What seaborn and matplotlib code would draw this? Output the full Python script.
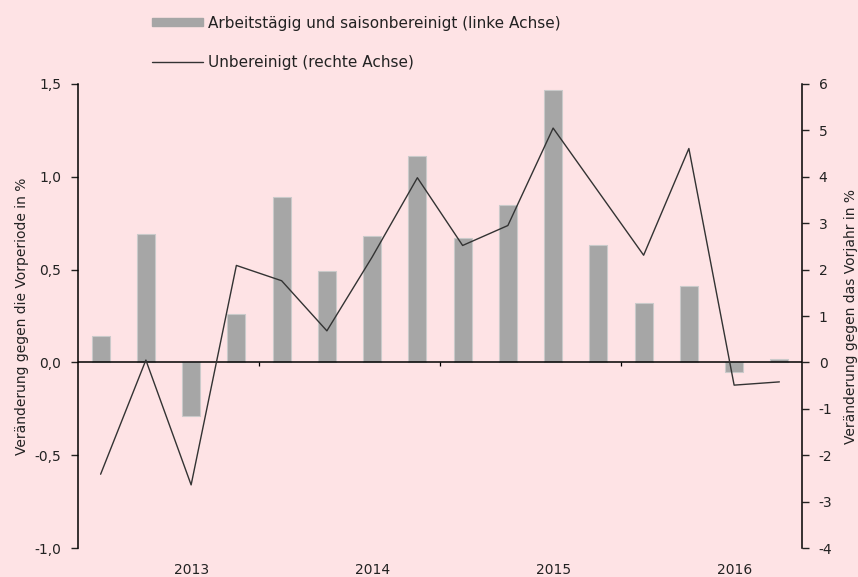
import numpy as np
import pandas as pd
import matplotlib
matplotlib.use("Agg")
import matplotlib.pyplot as plt
import seaborn as sns
from matplotlib.patches import Patch
from matplotlib.lines import Line2D
from matplotlib.ticker import FuncFormatter

# ==========================================
# 1. DATA
# ==========================================
years = ["2013", "2014", "2015", "2016"]
quarters = [f"{y} Q{q}" for y in years for q in range(1, 5)]

# bars: arbeitstaeglich und saisonbereinigt (left axis, % vs. Vorperiode)
bereinigt = [0.14, 0.69, -0.29, 0.26, 0.89, 0.49, 0.68, 1.11,
             0.67, 0.85, 1.47, 0.63, 0.32, 0.41, -0.05, 0.02]

# line: unbereinigt (right axis, % vs. Vorjahr)
unbereinigt = [-2.41, 0.05, -2.64, 2.09, 1.76, 0.68, 2.27, 3.98,
               2.52, 2.95, 5.05, 3.68, 2.31, 4.61, -0.49, -0.42]

label_bars = "Arbeitstägig und saisonbereinigt (linke Achse)"
label_line = "Unbereinigt (rechte Achse)"
ylabel_left = "Veränderung gegen die Vorperiode in %"
ylabel_right = "Veränderung gegen das Vorjahr in %"

df = pd.DataFrame({"quartal": quarters, "bereinigt": bereinigt,
                   "unbereinigt": unbereinigt})
df["pos"] = np.arange(len(df))

# ==========================================
# 2. STYLE
# ==========================================
bg = "#FEE3E5"
bar_color = "#A6A6A6"
bar_edge = "#CACACA"
line_color = "#333333"
txt = "#222222"
fs = 10

sns.set_theme(style="white")
plt.rcParams["font.family"] = ["DejaVu Sans"]
plt.rcParams["font.size"] = fs

fig = plt.figure(figsize=(8.58, 5.77), dpi=100, facecolor=bg)
ax = fig.add_axes([78 / 858, 1 - 548 / 577, (802 - 78) / 858, (548 - 84) / 577])
ax.set_facecolor(bg)

# ==========================================
# 3. BARS (left axis)
# ==========================================
sns.barplot(data=df, x="quartal", y="bereinigt", color=bar_color,
            width=0.4, edgecolor=bar_edge, linewidth=0.8, saturation=1,
            ax=ax, zorder=2)

ax.set_xlim(-0.5, len(quarters) - 0.5)
ax.set_ylim(-1.0, 1.5)
ax.set_yticks(np.arange(-1.0, 1.51, 0.5))
ax.yaxis.set_major_formatter(FuncFormatter(lambda v, p: f"{v:.1f}".replace(".", ",")))
ax.set_ylabel(ylabel_left, fontsize=fs, color=txt, labelpad=4)
ax.set_xlabel("")

# zero line with year separators
ax.axhline(0, color="black", linewidth=1.1, zorder=3)
bounds = np.arange(3.5, len(quarters) - 1, 4)
ax.vlines(bounds, -0.022, 0, color="black", linewidth=0.9, zorder=3)

# year labels below the plot
year_pos = np.arange(len(years)) * 4 + 2
ax.set_xticks(year_pos)
ax.set_xticklabels(years)
ax.tick_params(axis="x", length=0, pad=11, labelsize=fs, colors=txt)
ax.tick_params(axis="y", left=True, direction="out", length=5, width=1,
               pad=7, labelsize=fs, colors=txt)

for s in ["top", "bottom", "right"]:
    ax.spines[s].set_visible(False)
ax.spines["left"].set_color("black")
ax.spines["left"].set_linewidth(1.1)

# ==========================================
# 4. LINE (right axis)
# ==========================================
ax2 = ax.twinx()
sns.lineplot(data=df, x="pos", y="unbereinigt", color=line_color,
             linewidth=1.0, ax=ax2, zorder=4)
ax2.set_xlim(-0.5, len(quarters) - 0.5)
ax2.set_ylim(-4, 6)
ax2.set_yticks(np.arange(-4, 7, 1))
ax2.yaxis.set_major_formatter(FuncFormatter(lambda v, p: f"{int(v)}"))
ax2.set_ylabel(ylabel_right, fontsize=fs, color=txt, labelpad=8)
ax2.set_xlabel("")
ax2.tick_params(axis="y", right=True, direction="out", length=5, width=1,
                pad=7, labelsize=fs, colors=txt)
for s in ["top", "bottom", "left"]:
    ax2.spines[s].set_visible(False)
ax2.spines["right"].set_color("black")
ax2.spines["right"].set_linewidth(1.1)

# ==========================================
# 5. LEGEND (top, outside plot)
# ==========================================
handles = [Patch(facecolor=bar_color, edgecolor=bar_color),
           Line2D([0], [0], color=line_color, linewidth=1.0)]
fig.legend(handles, [label_bars, label_line], loc="upper left",
           bbox_to_anchor=(138 / 858, 1 - 2 / 577), frameon=False,
           fontsize=11, labelspacing=1.6, handlelength=3.35,
           handleheight=0.42, handletextpad=0.3, labelcolor=txt)

fig.savefig("out.png", dpi=100, facecolor=bg)
print("Saved: out.png")
